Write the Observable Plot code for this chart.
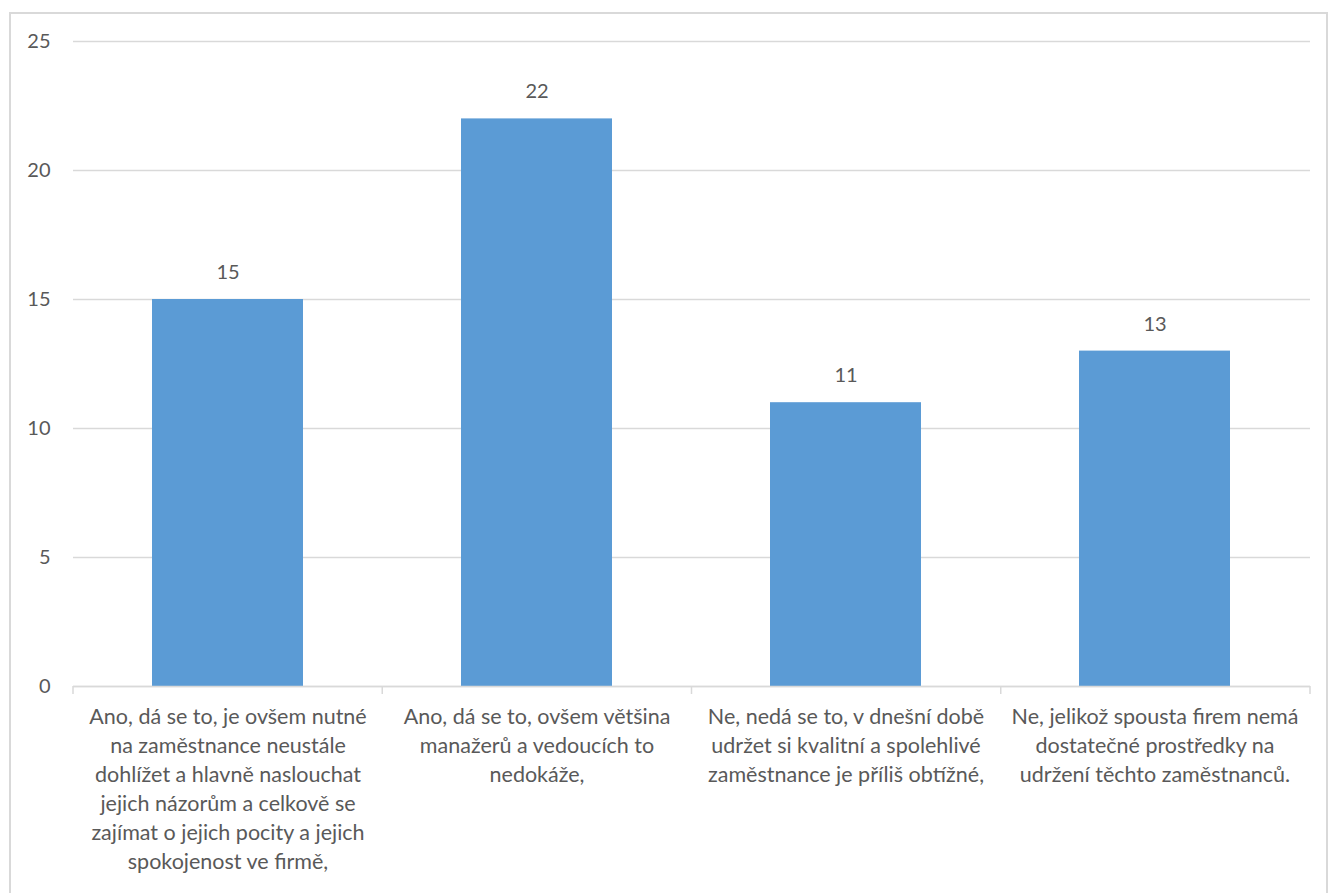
<!DOCTYPE html>
<html>
<head>
<meta charset="utf-8">
<script src="https://cdn.jsdelivr.net/npm/d3@7"></script>
<script src="https://cdn.jsdelivr.net/npm/@observablehq/plot@0.6"></script>
<style>
  html, body { margin: 0; padding: 0; background: #fff; }
  #wrap { position: relative; width: 1332px; height: 893px; overflow: hidden; }
  #border { position: absolute; left: 9px; top: 12px; width: 1319px; height: 900px; border: 2px solid #d9d9d9; box-sizing: border-box; }
  #chart { position: absolute; left: 0; top: 0; }
</style>
</head>
<body>
<div id="wrap"><div id="border"></div><div id="chart"></div></div>
<script>
const categories = [
  "Ano, dá se to, je ovšem nutné na zaměstnance neustále dohlížet a hlavně naslouchat jejich názorům a celkově se zajímat o jejich pocity a jejich spokojenost ve firmě,",
  "Ano, dá se to, ovšem většina manažerů a vedoucích to nedokáže,",
  "Ne, nedá se to, v dnešní době udržet si kvalitní a spolehlivé zaměstnance je příliš obtížné,",
  "Ne, jelikož spousta firem nemá dostatečné prostředky na udržení těchto zaměstnanců."
];
const values = [15, 22, 11, 13];
const tickLabels = [
  "Ano, dá se to, je ovšem nutné\nna zaměstnance neustále\ndohlížet a hlavně naslouchat\njejich názorům a celkově se\nzajímat o jejich pocity a jejich\nspokojenost ve firmě,",
  "Ano, dá se to, ovšem většina\nmanažerů a vedoucích to\nnedokáže,",
  "Ne, nedá se to, v dnešní době\nudržet si kvalitní a spolehlivé\nzaměstnance je příliš obtížné,",
  "Ne, jelikož spousta firem nemá\ndostatečné prostředky na\nudržení těchto zaměstnanců."
];
const yTicks = [0, 5, 10, 15, 20, 25];

const data = categories.map((c, i) => ({category: c, value: values[i], label: tickLabels[i]}));
const labelOf = new Map(data.map(d => [d.category, d.label]));

const textColor = "#595959";
const gridColor = "#d9d9d9";

const boundaryTicks = (index, scales, values, dims) => {
  const g = d3.create("svg:g");
  const n = categories.length;
  const step = (dims.width - dims.marginLeft - dims.marginRight) / n;
  const y0 = scales.y(0);
  for (let i = 0; i <= n; i++) {
    const x = dims.marginLeft + i * step;
    g.append("line").attr("x1", x).attr("x2", x).attr("y1", y0).attr("y2", y0 + 8)
      .attr("stroke", gridColor).attr("stroke-width", 1.5);
  }
  return g.node();
};

const chart = Plot.plot({
  width: 1332,
  height: 893,
  marginLeft: 73,
  marginRight: 22,
  marginTop: 41,
  marginBottom: 207,
  style: {fontFamily: "Lato, 'Open Sans', sans-serif", background: "transparent", color: textColor},
  x: {domain: categories, paddingInner: 0.51, paddingOuter: 0.255},
  y: {domain: [0, 25]},
  marks: [
    Plot.ruleY(yTicks, {stroke: gridColor, strokeWidth: 1.5}),
    Plot.barY(data, {x: "category", y: "value", fill: "#5B9BD5"}),
    Plot.ruleY([0], {stroke: gridColor, strokeWidth: 1.5}),
    boundaryTicks,
    Plot.text(data, {x: "category", y: "value", text: d => String(d.value), dy: -27, fill: textColor, fontSize: 20}),
    Plot.axisY({ticks: yTicks, tickSize: 0, tickPadding: 23, fontSize: 20, fill: textColor, label: null}),
    Plot.axisX({tickSize: 0, tickPadding: 17, tickFormat: d => labelOf.get(d), fontSize: 21.5, lineHeight: 1.35, fill: textColor, label: null, lineAnchor: "top"})
  ]
});
document.getElementById("chart").appendChild(chart);
</script>
</body>
</html>
